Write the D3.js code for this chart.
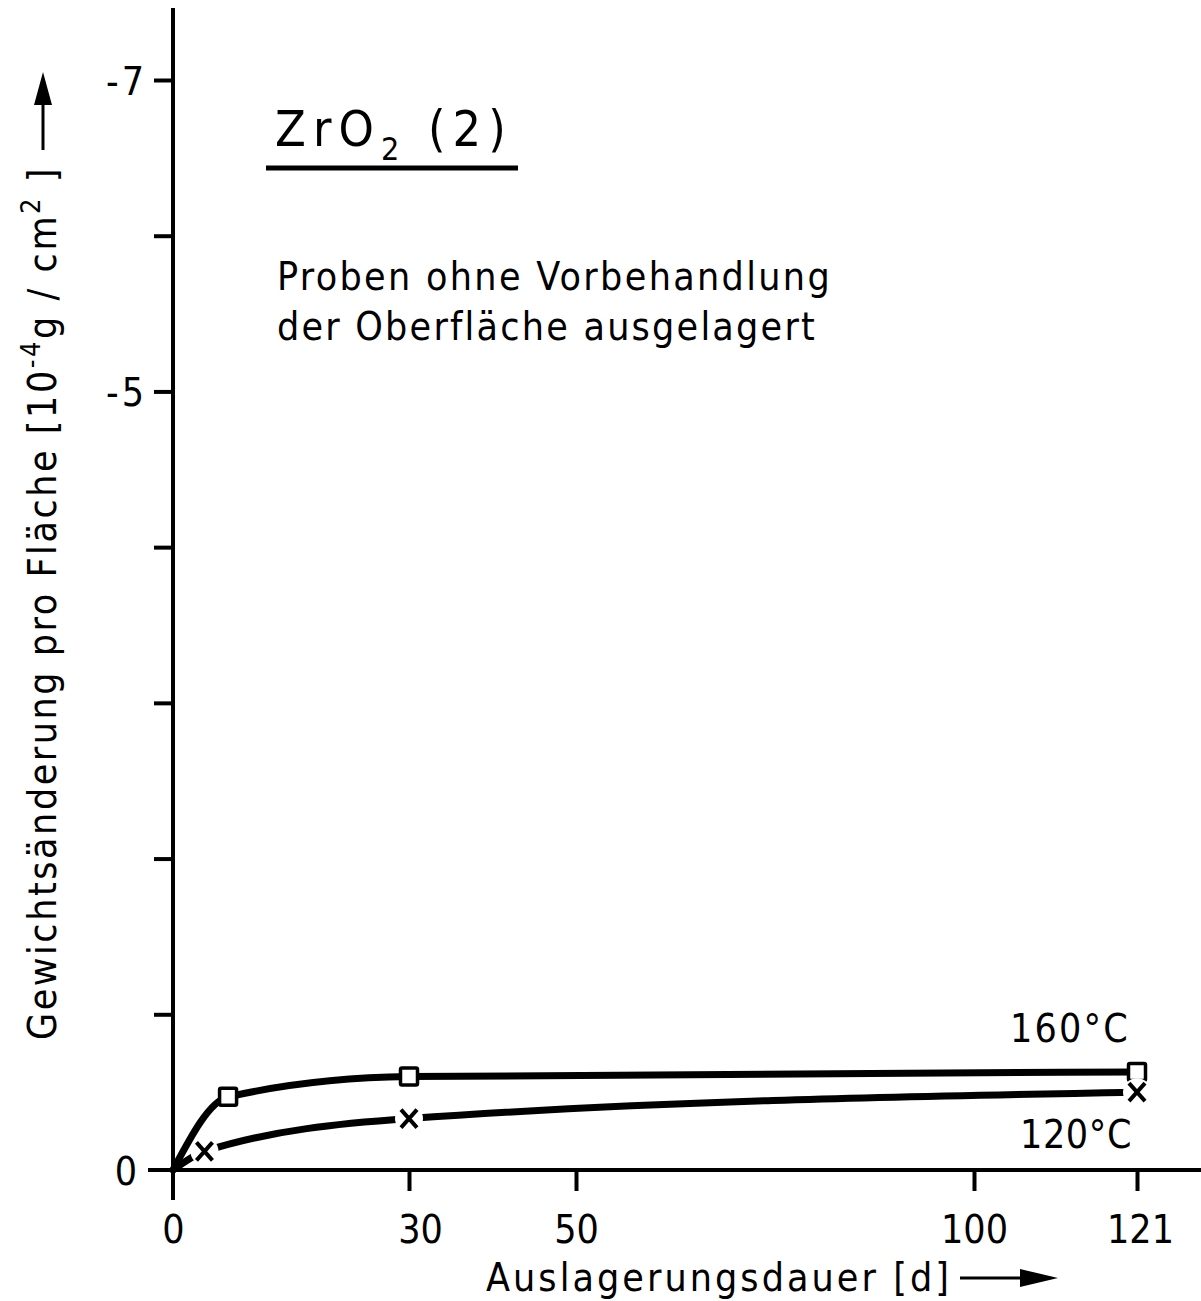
<!DOCTYPE html>
<html>
<head>
<meta charset="utf-8">
<script src="https://cdn.jsdelivr.net/npm/d3@7"></script>
<style>
  body { margin: 0; background: #fff; }
  svg text { font-family: "DejaVu Sans Condensed", "DejaVu Sans", sans-serif; font-stretch: condensed; fill: #000; }
</style>
</head>
<body>
<div id="chart"></div>
<script>
// data (days, 10^-4 g/cm^2)
const days160 = [0, 7, 30, 121];
const values160 = [0, -0.47, -0.6, -0.63];
const days120 = [0, 4, 30, 121];
const values120 = [0, -0.12, -0.33, -0.5];
const xTicks = [0, 30, 50, 100, 121];
const yTicks = [0, -1, -2, -3, -4, -5, -6, -7];
const yLabels = [0, -5, -7];

const width = 1201, height = 1301;
const fontSize = 39;

// hand drawn axis is not perfectly even, so follow its tick spots
const x = d3.scaleLinear()
  .domain([0, 30, 50, 100, 121])
  .range([173, 409, 576, 974, 1137]);

const y = d3.scaleLinear()
  .domain([0, -7])
  .range([1170, 80]);

const svg = d3.select("#chart").append("svg")
  .attr("width", width)
  .attr("height", height);

// spread letters so a text covers the given width
function fit(sel, target) {
  const node = sel.node();
  const n = node.textContent.length;
  const w = node.getComputedTextLength();
  sel.attr("letter-spacing", Math.max(0, (target - w) / n));
  return sel;
}

// axes lines
svg.append("line")
  .attr("x1", x(0)).attr("x2", x(0))
  .attr("y1", 8).attr("y2", 1200)
  .attr("stroke", "#000").attr("stroke-width", 4);

svg.append("line")
  .attr("x1", 148).attr("x2", width)
  .attr("y1", y(0)).attr("y2", y(0))
  .attr("stroke", "#000").attr("stroke-width", 4);

// y ticks
const yAxis = svg.append("g")
  .attr("transform", `translate(${x(0)},0)`)
  .call(d3.axisLeft(y)
    .tickValues(yTicks)
    .tickSize(19)
    .tickPadding(7)
    .tickFormat(d => yLabels.includes(d) ? (d === 0 ? "0" : "-" + Math.abs(d)) : ""));
yAxis.select(".domain").remove();
yAxis.selectAll(".tick line").attr("stroke", "#000").attr("stroke-width", 4);
yAxis.selectAll(".tick text")
  .attr("font-size", fontSize)
  .attr("dy", "0.36em")
  .attr("letter-spacing", 3);
yAxis.selectAll(".tick").filter(d => d === 0).select("line").remove();
yAxis.selectAll(".tick").filter(d => d === 0).select("text").attr("x", -33);

// x ticks
const xAxis = svg.append("g")
  .attr("transform", `translate(0,${y(0)})`)
  .call(d3.axisBottom(x)
    .tickValues(xTicks)
    .tickSize(21)
    .tickFormat(d3.format("d")));
xAxis.select(".domain").remove();
xAxis.selectAll(".tick line").attr("stroke", "#000").attr("stroke-width", 4);
xAxis.selectAll(".tick text")
  .attr("font-size", fontSize)
  .attr("y", 73)
  .attr("dy", null);
xAxis.selectAll(".tick").filter(d => d === 0).select("line").remove();
xAxis.selectAll(".tick").filter(d => d === 30).select("text").attr("dx", 11);
xAxis.selectAll(".tick").filter(d => d === 121).select("text").attr("dx", 3);

// curves
const line = d3.line()
  .x(d => x(d[0]))
  .y(d => y(d[1]))
  .curve(d3.curveMonotoneX);

const data160 = days160.map((d, i) => [d, values160[i]]);
const data120 = days120.map((d, i) => [d, values120[i]]);

[data160, data120].forEach(data => {
  svg.append("path")
    .datum(data)
    .attr("d", line)
    .attr("fill", "none")
    .attr("stroke", "#000")
    .attr("stroke-width", 7)
    .attr("stroke-linecap", "round");
});

// square markers 160 °C
svg.selectAll(".sq")
  .data(data160.slice(1))
  .enter().append("rect")
  .attr("class", "sq")
  .attr("x", d => x(d[0]) - 8.5)
  .attr("y", d => y(d[1]) - 8.5)
  .attr("width", 17)
  .attr("height", 17)
  .attr("rx", 1.5)
  .attr("fill", "#fff")
  .attr("stroke", "#000")
  .attr("stroke-width", 3.5);

// cross markers 120 °C, with a white gap round them
const cross = svg.selectAll(".cross")
  .data(data120.slice(1))
  .enter().append("g")
  .attr("class", "cross")
  .attr("transform", d => `translate(${x(d[0])},${y(d[1])})`);
cross.append("circle").attr("r", 14).attr("fill", "#fff");
cross.append("path")
  .attr("d", "M-8,-9L8,9M-8,9L8,-9")
  .attr("stroke", "#000")
  .attr("stroke-width", 4);

// series labels
fit(svg.append("text")
  .attr("x", 1010).attr("y", 1042)
  .attr("font-size", fontSize)
  .text("160°C"), 120);
fit(svg.append("text")
  .attr("x", 1020).attr("y", 1148)
  .attr("font-size", fontSize)
  .text("120°C"), 112);

// title
const title = svg.append("text")
  .attr("x", 275).attr("y", 146)
  .attr("font-size", 50);
title.append("tspan").text("ZrO");
title.append("tspan").attr("font-size", 32).attr("dy", 14).text("2");
title.append("tspan").attr("dy", -14).text(" (2)");
fit(title, 238);
svg.append("line")
  .attr("x1", 266).attr("x2", 518)
  .attr("y1", 168).attr("y2", 168)
  .attr("stroke", "#000").attr("stroke-width", 5);

fit(svg.append("text")
  .attr("x", 277).attr("y", 290)
  .attr("font-size", fontSize)
  .text("Proben ohne Vorbehandlung"), 555);
fit(svg.append("text")
  .attr("x", 277).attr("y", 340)
  .attr("font-size", fontSize)
  .text("der Oberfläche ausgelagert"), 540);

// x axis title
fit(svg.append("text")
  .attr("x", 486).attr("y", 1291)
  .attr("font-size", fontSize)
  .text("Auslagerungsdauer [d]"), 466);
svg.append("line")
  .attr("x1", 960).attr("x2", 1025)
  .attr("y1", 1278).attr("y2", 1278)
  .attr("stroke", "#000").attr("stroke-width", 3);
svg.append("path")
  .attr("d", "M1020,1269L1058,1278L1020,1287Z")
  .attr("fill", "#000");

// y axis title
const yg = svg.append("g").attr("transform", "translate(56,1040) rotate(-90)");
const yt = yg.append("text")
  .attr("font-size", fontSize);
yt.append("tspan").text("Gewichtsänderung pro Fläche [10");
yt.append("tspan").attr("font-size", 27).attr("dy", -16).text("-4");
yt.append("tspan").attr("dy", 16).text("g / cm");
yt.append("tspan").attr("font-size", 27).attr("dy", -16).text("2");
yt.append("tspan").attr("dy", 16).text(" ]");
fit(yt, 874);
yg.append("line")
  .attr("x1", 890).attr("x2", 940)
  .attr("y1", -13).attr("y2", -13)
  .attr("stroke", "#000").attr("stroke-width", 3);
yg.append("path")
  .attr("d", "M935,-22L968,-13L935,-4Z")
  .attr("fill", "#000");
</script>
</body>
</html>
